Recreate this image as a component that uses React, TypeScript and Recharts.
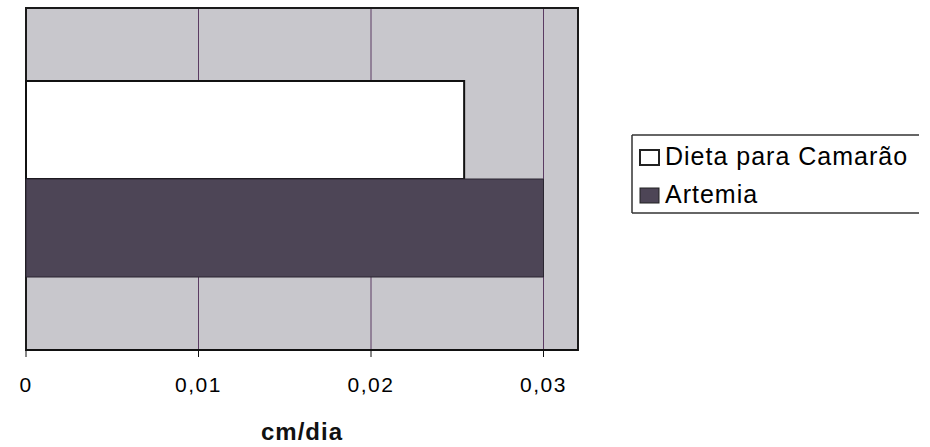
import React from "react";
import { Bar, BarChart, CartesianGrid, ReferenceArea, XAxis, YAxis } from "recharts";

const categories = [""];
const dietaValues = [0.0254];
const artemiaValues = [0.03];
const xTicks = [0, 0.01, 0.02, 0.03];
const seriesNames = ["Dieta para Camarão", "Artemia"];
const seriesFills = ["#ffffff", "#4d4556"];

const data = categories.map((name, i) => ({
  name,
  dieta: dietaValues[i],
  artemia: artemiaValues[i],
}));

const FONT = '"Liberation Sans", Arial, sans-serif';

const renderTick = (props: any) => {
  const { x, y, payload } = props;
  const label = payload.value === 0 ? "0" : String(payload.value).replace(".", ",");
  return (
    <text x={x} y={y + 33} textAnchor="middle" fontFamily={FONT} fontSize={21} letterSpacing={1.5} fill="#000">
      {label}
    </text>
  );
};

// legend sits outside the plot, like the spreadsheet one
const LegendBox = () => (
  <svg width={300} height={90} style={{ position: "absolute", left: 630, top: 130 }}>
    <line x1={2} y1={5} x2={289} y2={5} stroke="#333" strokeWidth={1.5} />
    <line x1={2} y1={83} x2={289} y2={83} stroke="#333" strokeWidth={1.5} />
    <line x1={2} y1={5} x2={2} y2={83} stroke="#333" strokeWidth={1.5} />
    {seriesNames.map((name, i) => (
      <g key={name}>
        <rect x={10} y={20 + i * 38} width={19} height={15} fill={seriesFills[i]} stroke="#222" strokeWidth={i === 0 ? 2 : 1} />
        <text x={35} y={35 + i * 38} fontFamily={FONT} fontSize={25} letterSpacing={1} fill="#000">
          {name}
        </text>
      </g>
    ))}
  </svg>
);

export default function App() {
  return (
    <div style={{ position: "absolute", left: 0, top: 0, width: 930, height: 447, background: "#fff" }}>
      <BarChart
        width={930}
        height={447}
        data={data}
        layout="vertical"
        margin={{ top: 8, right: 352, bottom: 0, left: 26 }}
        barCategoryGap={73}
        barGap={0}
      >
        <CartesianGrid horizontal={false} stroke="#5b3b62" strokeWidth={1} fill="#c8c7cc" />
        <XAxis
          type="number"
          domain={[0, 0.032]}
          ticks={xTicks}
          tick={renderTick}
          tickLine={{ stroke: "#111" }}
          tickSize={7}
          axisLine={{ stroke: "#111", strokeWidth: 2 }}
          height={97}
          label={{
            value: "cm/dia",
            position: "insideBottom",
            offset: 7,
            style: { fontFamily: FONT, fontSize: 24, fontWeight: "bold", letterSpacing: 1, fill: "#111" },
          }}
        />
        <YAxis type="category" dataKey="name" width={0} tick={false} tickLine={false} axisLine={false} />
        <ReferenceArea x1={0} x2={0.032} fill="none" stroke="#1a1a1a" strokeWidth={2} ifOverflow="extendDomain" />
        <Bar
          dataKey="dieta"
          name={seriesNames[0]}
          fill={seriesFills[0]}
          stroke="#111"
          strokeWidth={2}
          isAnimationActive={false}
        />
        <Bar
          dataKey="artemia"
          name={seriesNames[1]}
          fill={seriesFills[1]}
          stroke="#2a2530"
          strokeWidth={1}
          isAnimationActive={false}
        />
      </BarChart>
      <LegendBox />
    </div>
  );
}
